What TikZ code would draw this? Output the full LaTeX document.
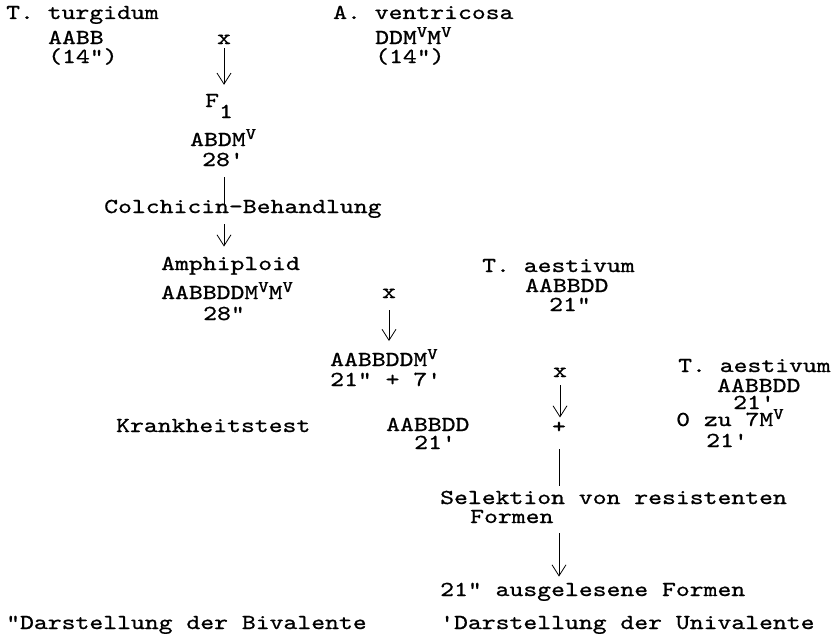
\documentclass[tikz,border=0pt]{standalone}
\usepackage{fontspec}
\usetikzlibrary{arrows.meta}
\newfontfamily\twfam{lmmono10-regular.otf}[FakeStretch=1.24, FakeBold=0.8]
\newcommand{\twfont}{\fontsize{21.3}{24}\twfam}
\newcommand{\supV}{\raisebox{7pt}{\fontsize{16}{16}\selectfont V}}
\begin{document}
\begin{tikzpicture}[x=1pt, y=-1pt, font=\twfont,
    lbl/.style={anchor=base west, inner sep=0},
    mid/.style={anchor=base, inner sep=0},
    ln/.style={line width=0.8pt},
    arr/.style={ln, -{Straight Barb[length=11pt, width=14pt]}}]
  \useasboundingbox (0,0) rectangle (833,637);
  % parents
  \node[lbl] (tturg) at (6, 19) {T. turgidum};
  \node[lbl] (aabb) at (48, 44) {AABB};
  \node[lbl] (chra) at (48, 63) {(14")};
  \node[mid] (crossa) at (224, 44) {x};
  \node[lbl] (avent) at (333, 19) {A. ventricosa};
  \node[lbl] (ddmm) at (375, 44) {DDM\supV M\supV};
  \node[lbl] (chrb) at (375, 63) {(14")};
  % F1 and amphiploid
  \node[lbl] (fone) at (205, 107) {F\raisebox{-11pt}{1}};
  \node[lbl] (abdm) at (190, 146) {ABDM\supV};
  \node[lbl] (unia) at (202, 166) {28'};
  \node[lbl] (colch) at (104, 213) {Colchicin-Behandlung};
  \node[lbl] (amph) at (161, 270) {Amphiploid};
  \node[lbl] (amgen) at (161, 299) {AABBDDM\supV M\supV};
  \node[lbl] (bia) at (203, 320) {28"};
  \node[mid] (crossb) at (389, 298) {x};
  \node[lbl] (aest) at (482, 272) {T. aestivum};
  \node[lbl] (aestgen) at (525, 292) {AABBDD};
  \node[lbl] (bib) at (549, 311) {21"};
  % backcross
  \node[lbl] (bcgen) at (330, 366) {AABBDDM\supV};
  \node[lbl] (bcchr) at (330, 386) {21" + 7'};
  \node[lbl] (krank) at (116, 432) {Krankheitstest};
  \node[lbl] (testgen) at (386, 431) {AABBDD};
  \node[lbl] (unib) at (414, 449) {21'};
  \node[mid] (crossc) at (560, 377) {x};
  \node[mid] (plus) at (559, 433) {+};
  \node[lbl] (aestb) at (678, 372) {T. aestivum};
  \node[lbl] (aestbgen) at (717, 392) {AABBDD};
  \node[lbl] (unic) at (733, 409) {21'};
  \node[lbl] (zu) at (676, 426) {0 zu 7M\supV};
  \node[lbl] (unid) at (706, 447) {21'};
  % selection
  \node[lbl] (selek) at (440, 504) {Selektion von resistenten};
  \node[lbl] (formen) at (470, 523) {Formen};
  \node[lbl] (ausg) at (440, 596) {21" ausgelesene Formen};
  \node[lbl] (bival) at (6, 629) {"Darstellung der Bivalente};
  \node[lbl] (unival) at (440, 629) {'Darstellung der Univalente};
  % connectors
  \draw[arr] ([yshift=-4pt]crossa.south) -- ([yshift=9pt]crossa.south |- fone.north);
  \draw[ln] ([yshift=-11pt]crossa.south |- unia.south) -- ([yshift=-4pt]crossa.south |- colch.north);
  \draw[arr] ([yshift=-6pt]crossa.south |- colch.south) -- ([yshift=10pt]crossa.south |- amph.north);
  \draw[arr] ([yshift=-12pt]crossb.south) -- ([yshift=8pt]crossb.south |- bcgen.north);
  \draw[arr] ([yshift=-8pt]crossc.south) -- ([yshift=4pt]crossc.south |- plus.north);
  \draw[ln] ([yshift=-16pt]plus.south) -- ([yshift=5pt]plus.south |- selek.north);
  \draw[arr] ([yshift=-10pt]plus.south |- formen.south) -- ([yshift=6pt]plus.south |- ausg.north);
\end{tikzpicture}
\end{document}
